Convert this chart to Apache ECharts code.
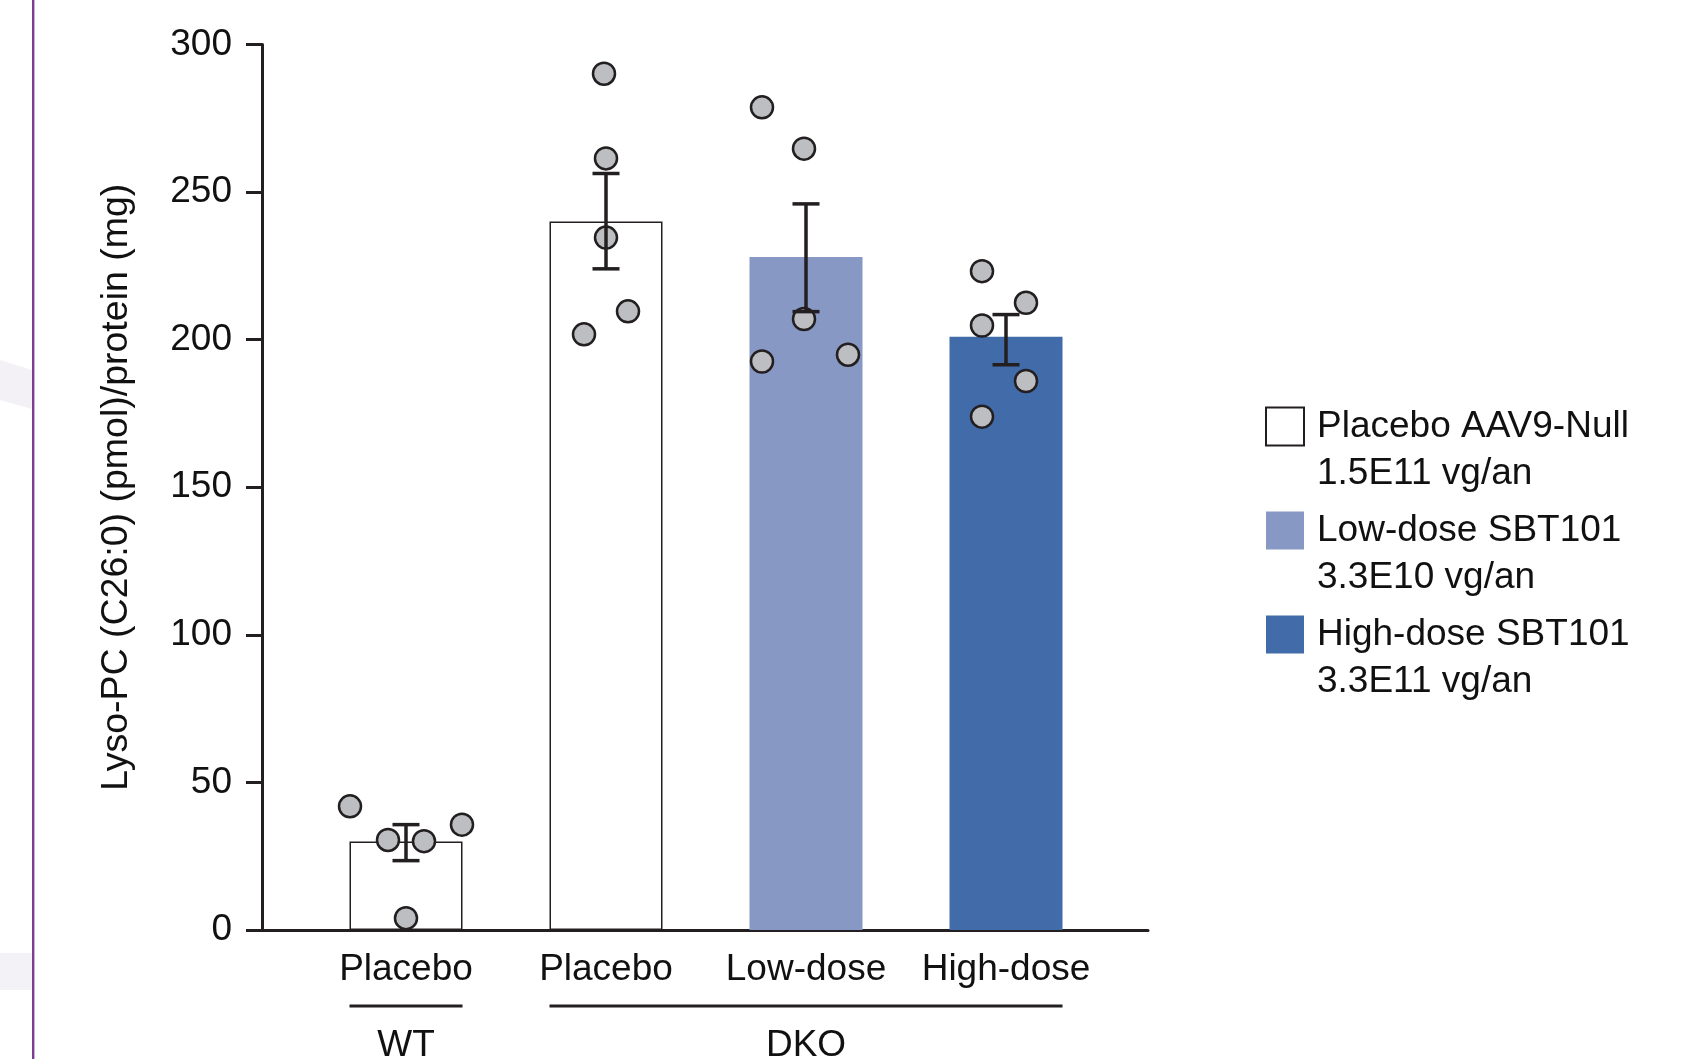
<!DOCTYPE html>
<html>
<head>
<meta charset="utf-8">
<script src="https://cdn.jsdelivr.net/npm/echarts@6/dist/echarts.min.js"></script>
<style>
html, body { margin: 0; padding: 0; background: #fff; }
#main { width: 1702px; height: 1059px; }
</style>
</head>
<body>
<div id="main"></div>
<script>
// groups along the x axis
var categories = ['Placebo', 'Placebo', 'Low-dose', 'High-dose']
var genotypes = ['WT', 'DKO']
var genotypeOf = [0, 1, 1, 1]
var seriesNames = ['Placebo AAV9-Null\n1.5E11 vg/an', 'Low-dose SBT101\n3.3E10 vg/an', 'High-dose SBT101\n3.3E11 vg/an']
var treatmentOf = [0, 0, 1, 2]
var seriesColors = ['#ffffff', '#8898c5', '#416ca9']
var yTicks = [0, 50, 100, 150, 200, 250, 300]

// bar = mean, errLow / errHigh = ends of the SEM whiskers
var means = [30, 240, 228, 201]
var errLow = [23.5, 224, 209.5, 191.5]
var errHigh = [35.7, 256.3, 246, 208.5]

// single animals, and how far each dot sits from the bar centre (in bar slots)
var points = [
  [41.9, 30.5, 30.1, 35.7, 4.0],
  [290.1, 261.4, 234.6, 201.8, 209.6],
  [278.7, 264.7, 207.0, 192.6, 194.9],
  [223.2, 212.5, 204.8, 186.0, 173.9]
]
var jitter = [
  [-0.28, -0.09, 0.09, 0.28, 0],
  [-0.01, 0, 0, -0.11, 0.11],
  [-0.22, -0.01, -0.01, -0.22, 0.21],
  [-0.12, 0.10, -0.12, 0.10, -0.12]
]

var FONT = '"Liberation Sans", Arial, Helvetica, sans-serif'
var INK = '#231f20'
var OFFSET = 0.72 // first bar centre, in slot units from the y axis
var BAR_W = 113

function pos (i) {
  return i + OFFSET
}

var chart = echarts.init(document.getElementById('main'))

var barSeries = seriesNames.map(function (name, t) {
  var data = []
  categories.forEach(function (c, i) {
    if (treatmentOf[i] === t) data.push([pos(i), means[i]])
  })
  return {
    name: name,
    type: 'bar',
    barWidth: BAR_W,
    barGap: '-100%',
    z: 1,
    itemStyle: t === 0
      ? { color: seriesColors[t], borderColor: INK, borderWidth: 1.5 }
      : { color: seriesColors[t] },
    data: data
  }
})

var dots = []
points.forEach(function (list, i) {
  list.forEach(function (v, k) {
    dots.push([pos(i) + jitter[i][k], v])
  })
})

var whiskers = categories.map(function (c, i) {
  return [pos(i), errLow[i], errHigh[i]]
})

var option = {
  animation: false,
  backgroundColor: '#fff',
  textStyle: { fontFamily: FONT },
  grid: { left: 262, right: 1702 - 1148, top: 44.5, bottom: 1059 - 930 },
  legend: {
    orient: 'vertical',
    left: 1265,
    top: 403,
    padding: 0,
    itemWidth: 38,
    itemHeight: 85,
    itemGap: 10,
    selectedMode: false,
    icon: 'path://M0,0L38,0L38,38L0,38Z M0,85L0.01,85',
    textStyle: { fontSize: 37, lineHeight: 47, color: '#111', fontFamily: FONT, padding: [0, 0, 0, 8] },
    data: seriesNames
  },
  xAxis: {
    type: 'value',
    min: 0,
    max: 4.43,
    splitLine: { show: false },
    axisTick: { show: false },
    axisLine: { lineStyle: { color: INK, width: 3 } },
    axisLabel: {
      customValues: categories.map(function (c, i) { return pos(i) }),
      margin: 21,
      fontSize: 37,
      color: '#111',
      fontFamily: FONT,
      formatter: function (v) { return categories[Math.round(v - OFFSET)] }
    }
  },
  yAxis: {
    type: 'value',
    min: yTicks[0],
    max: yTicks[yTicks.length - 1],
    interval: 50,
    name: 'Lyso-PC (C26:0) (pmol)/protein (mg)',
    nameLocation: 'middle',
    nameGap: 126,
    nameTextStyle: { fontSize: 37.5, color: '#111', fontFamily: FONT },
    splitLine: { show: false },
    axisLine: { show: true, lineStyle: { color: INK, width: 3 } },
    axisTick: { show: true, length: 16, lineStyle: { color: INK, width: 3 } },
    axisLabel: { fontSize: 37, color: '#111', margin: 30, fontFamily: FONT }
  },
  series: barSeries.concat([
    {
      name: 'animals',
      type: 'scatter',
      symbolSize: 22,
      z: 3,
      itemStyle: { color: '#bcbec1', borderColor: INK, borderWidth: 2.5, opacity: 1 },
      data: dots
    },
    {
      name: 'sem',
      type: 'custom',
      z: 4,
      renderItem: function (params, api) {
        var x = api.value(0)
        var lo = api.coord([x, api.value(1)])
        var hi = api.coord([x, api.value(2)])
        var w = 13.5
        var st = { stroke: INK, lineWidth: 3.5 }
        return {
          type: 'group',
          children: [
            { type: 'line', shape: { x1: lo[0], y1: lo[1], x2: hi[0], y2: hi[1] }, style: st },
            { type: 'line', shape: { x1: lo[0] - w, y1: lo[1], x2: lo[0] + w, y2: lo[1] }, style: st },
            { type: 'line', shape: { x1: hi[0] - w, y1: hi[1], x2: hi[0] + w, y2: hi[1] }, style: st }
          ]
        }
      },
      data: whiskers
    }
  ])
}

chart.setOption(option)

// page decoration on the left, then WT / DKO brackets placed from the axis scale
var extras = [
  { type: 'polygon', shape: { points: [[0, 360], [32, 370], [32, 409], [0, 400]] }, style: { fill: '#f3f1f6' }, z: -5 },
  { type: 'rect', shape: { x: 0, y: 953, width: 32, height: 37 }, style: { fill: '#f3f2f6' }, z: -5 },
  { type: 'line', shape: { x1: 33.2, y1: 0, x2: 33.2, y2: 1059 }, style: { stroke: '#7b3f8f', lineWidth: 2.4 } }
]
genotypes.forEach(function (g, gi) {
  var idx = []
  genotypeOf.forEach(function (v, i) { if (v === gi) idx.push(i) })
  var a = chart.convertToPixel({ gridIndex: 0 }, [pos(idx[0]), 0])
  var b = chart.convertToPixel({ gridIndex: 0 }, [pos(idx[idx.length - 1]), 0])
  var x1 = a[0] - BAR_W / 2
  var x2 = b[0] + BAR_W / 2
  extras.push({
    type: 'line',
    shape: { x1: x1, y1: 1006, x2: x2, y2: 1006 },
    style: { stroke: INK, lineWidth: 3 }
  })
  extras.push({
    type: 'text',
    x: (x1 + x2) / 2,
    y: 1046,
    style: { text: g, fontSize: 37, fill: '#111', fontFamily: FONT, align: 'center', verticalAlign: 'middle' }
  })
})
chart.setOption({ graphic: extras })
</script>
</body>
</html>
